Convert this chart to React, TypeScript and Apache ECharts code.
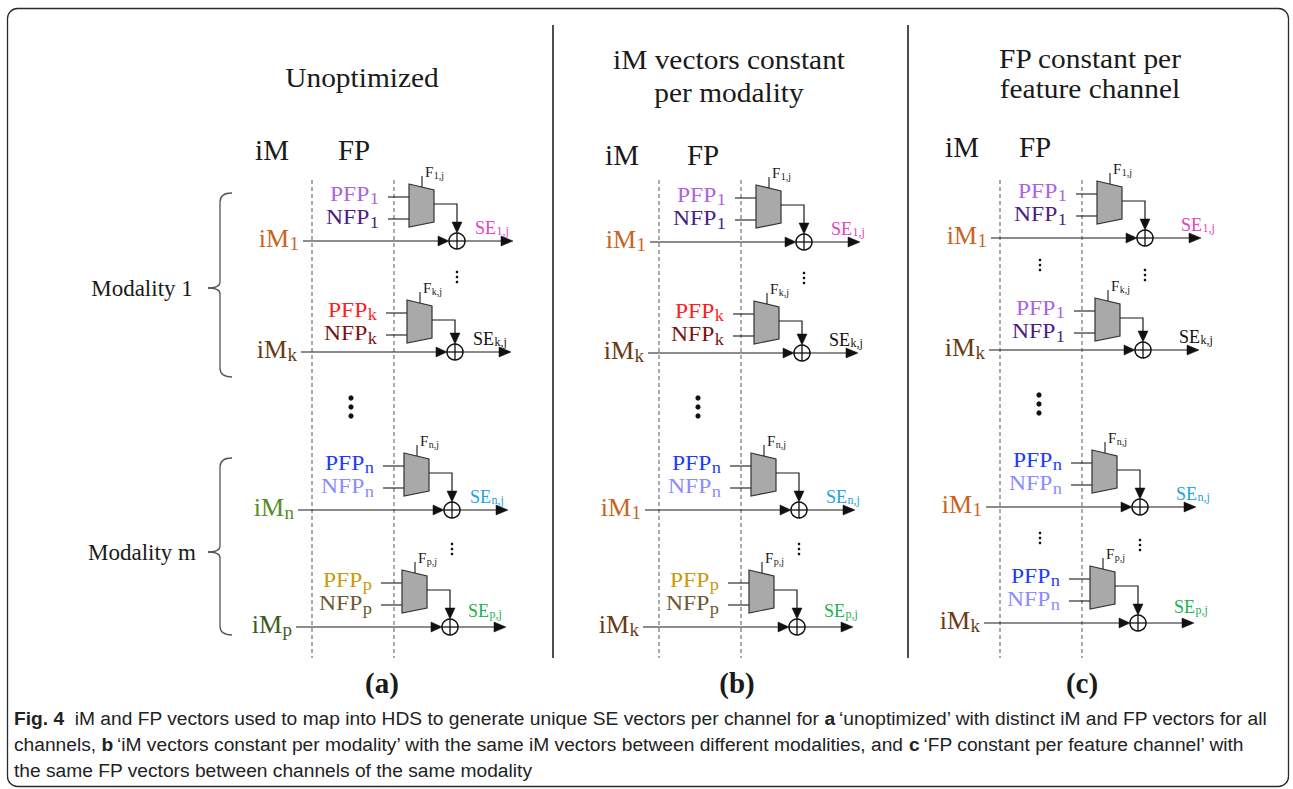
import React, { useEffect, useRef } from "react";
import * as echarts from "echarts";

// ---------------- content ----------------
const panelTitles: string[][] = [
  ["Unoptimized"],
  ["iM vectors constant", "per modality"],
  ["FP constant per", "feature channel"],
];
const panelLetters = ["(a)", "(b)", "(c)"];
const headerLabels = ["iM", "FP"];
const fpLabels = ["PFP", "NFP"];
const imSubs: string[][] = [
  ["1", "k", "n", "p"],
  ["1", "k", "1", "k"],
  ["1", "k", "1", "k"],
];
const fpSubs: string[][] = [
  ["1", "k", "n", "p"],
  ["1", "k", "n", "p"],
  ["1", "1", "n", "n"],
];
const seSubs = ["1,j", "k,j", "n,j", "p,j"];
const modalityLabels = ["Modality 1", "Modality m"];
const captionLines = [
  "{b|Fig. 4}  iM and FP vectors used to map into HDS to generate unique SE vectors per channel for {b|a}\u2009\u2018unoptimized\u2019 with distinct iM and FP vectors for all",
  "channels, {b|b}\u2009\u2018iM vectors constant per modality\u2019 with the same iM vectors between different modalities, and {b|c}\u2009\u2018FP constant per feature channel\u2019 with",
  "the same FP vectors between channels of the same modality",
];

// ---------------- styles ----------------
const IM_COLORS: Record<string, string> = { "1": "#c9631f", k: "#6a3a12", n: "#5a8a2b", p: "#3d5b1f" };
const PFP_COLORS: Record<string, string> = { "1": "#ad63dc", k: "#ff1d1d", n: "#1b3cff", p: "#c99a08" };
const NFP_COLORS: Record<string, string> = { "1": "#4a1d84", k: "#7b1313", n: "#8b8cff", p: "#6d5a33" };
const SE_COLORS: Record<string, string> = { "1,j": "#e043c3", "k,j": "#111111", "n,j": "#1aa3e0", "p,j": "#19b04f" };

const SERIF = "'Liberation Serif', 'DejaVu Serif', serif";
const SANS = "'Liberation Sans', 'DejaVu Sans', sans-serif";
const INK = "#1a1a1a";

// ---------------- layout ----------------
const PANELS = [
  { cx: 362, titleY: [78], dash1: 312, dash2: 394, headerY: 150, hdrIM: -40, hdrFP: 42, seDx: 18, letterX: 382 },
  { cx: 729, titleY: [60, 93], dash1: 659, dash2: 741, headerY: 155, hdrIM: -37, hdrFP: 44, seDx: 27, letterX: 737 },
  { cx: 1090, titleY: [59, 89], dash1: 1000, dash2: 1082, headerY: 147, hdrIM: -38, hdrFP: 35, seDx: 36, letterX: 1082 },
];
const ROW_Y = [
  [241, 352, 510, 627],
  [242, 353, 510, 627],
  [238, 350, 507, 623],
];
const ROW_DX = [0, -2, -5, -7];
const MUX_OFF = [-57, -52, -57, -57];
const SEPARATORS = [553, 908];
const BRACES = [
  { top: 193, bottom: 377, mid: 288 },
  { top: 458, bottom: 635, mid: 552 },
];
const FP_SX = 1.15; // the source figure's serif labels are slightly stretched horizontally
const TITLE_SX = 1.09;

// Times / Liberation Serif advance widths (em)
const EM: Record<string, number> = { F: 0.556, SE: 1.167, "1": 0.5, k: 0.5, n: 0.5, p: 0.5 };

function T(x: number, y: number, text: string, o: any = {}) {
  return {
    type: "text",
    x,
    y,
    scaleX: o.sx || 1,
    silent: true,
    style: {
      text,
      fill: o.fill || INK,
      fontSize: o.size || 16,
      fontFamily: o.family || SERIF,
      fontWeight: o.weight || "normal",
      textAlign: o.align || "left",
      align: o.align || "left",
      textVerticalAlign: "middle",
      verticalAlign: "middle",
      lineHeight: o.lineHeight,
      rich: o.rich,
    },
  };
}

// right-aligned main text + lowered subscript (two side-by-side texts)
function subRight(x: number, y: number, main: string, sub: string, color: string, fs: number, sfs: number, drop: number) {
  const sw = EM[sub] * sfs;
  return [
    T(x - sw - 0.5, y, main, { fill: color, size: fs, align: "right" }),
    T(x, y + drop, sub, { fill: color, size: sfs, align: "right" }),
  ];
}
// left-aligned main text + lowered subscript
function subLeft(x: number, y: number, main: string, sub: string, color: string, fs: number, sfs: number, drop: number) {
  const mw = EM[main] * fs;
  return [
    T(x, y, main, { fill: color, size: fs, align: "left" }),
    T(x + mw + 0.5, y + drop, sub, { fill: color, size: sfs, align: "left" }),
  ];
}

// PFP / NFP labels with subscripts, right-aligned at xr
function fpPair(xr: number, yP: number, yN: number, sub: string, c1: string, c2: string, fs: number, sfs: number, drop: number) {
  const sw = EM[sub] * sfs * FP_SX;
  return [
    T(xr - sw - 0.5, yP, fpLabels[0], { fill: c1, size: fs, align: "right", sx: FP_SX }),
    T(xr, yP + drop, sub, { fill: c1, size: sfs, align: "right", sx: FP_SX }),
    T(xr - sw - 0.5, yN, fpLabels[1], { fill: c2, size: fs, align: "right", sx: FP_SX }),
    T(xr, yN + drop, sub, { fill: c2, size: sfs, align: "right", sx: FP_SX }),
  ];
}

const line = (x1: number, y1: number, x2: number, y2: number, w = 1.2, stroke = INK, dash?: number[]) => ({
  type: "line",
  silent: true,
  shape: { x1, y1, x2, y2 },
  style: { stroke, lineWidth: w, lineDash: dash },
});

const tri = (pts: number[][]) => ({
  type: "polygon",
  silent: true,
  shape: { points: pts },
  style: { fill: "#111", stroke: "#111", lineWidth: 0.5 },
});

function buildGraphic() {
  const els: any[] = [];
  // outer frame
  els.push({
    type: "rect",
    silent: true,
    shape: { x: 7.5, y: 8.5, width: 1281, height: 778, r: 10 },
    style: { fill: "#ffffff", stroke: "#2a2a2a", lineWidth: 1.3 },
  });
  // separators
  SEPARATORS.forEach((sx) => els.push(line(sx, 25, sx, 658, 1.6, "#222")));

  // braces & modality labels
  BRACES.forEach((b, i) => {
    const bx = 220;
    const st = { stroke: "#555", lineWidth: 1.3, fill: "none" };
    els.push({ type: "bezierCurve", silent: true, shape: { x1: 232, y1: b.top, cpx1: bx, cpy1: b.top, x2: bx, y2: b.top + 9 }, style: st });
    els.push(line(bx, b.top + 9, bx, b.mid - 6, 1.3, "#555"));
    els.push({ type: "bezierCurve", silent: true, shape: { x1: bx, y1: b.mid - 6, cpx1: bx, cpy1: b.mid, x2: 208, y2: b.mid }, style: st });
    els.push({ type: "bezierCurve", silent: true, shape: { x1: 208, y1: b.mid, cpx1: bx, cpy1: b.mid, x2: bx, y2: b.mid + 6 }, style: st });
    els.push(line(bx, b.mid + 6, bx, b.bottom - 9, 1.3, "#555"));
    els.push({ type: "bezierCurve", silent: true, shape: { x1: bx, y1: b.bottom - 9, cpx1: bx, cpy1: b.bottom, x2: 232, y2: b.bottom }, style: st });
    els.push(T(142, b.mid, modalityLabels[i], { size: 23, align: "center" }));
  });

  PANELS.forEach((P, p) => {
    // titles
    panelTitles[p].forEach((t, i) => els.push(T(P.cx, P.titleY[i], t, { size: 27, align: "center", sx: TITLE_SX })));
    // headers
    els.push(T(P.dash1 + P.hdrIM, P.headerY, headerLabels[0], { size: 29, align: "center" }));
    els.push(T(P.dash1 + P.hdrFP, P.headerY, headerLabels[1], { size: 29, align: "center" }));
    // dashed guides
    els.push(line(P.dash1, 180, P.dash1, 658, 1, "#555", [4, 3]));
    els.push(line(P.dash2, 180, P.dash2, 658, 1, "#555", [4, 3]));
    // panel letter
    els.push(T(P.letterX, 683, panelLetters[p], { size: 29, weight: "bold", align: "center" }));

    // big dots between modalities
    const bdY = ROW_Y[p][2] - 103;
    [-9, 0, 9].forEach((d) =>
      els.push({ type: "circle", silent: true, shape: { cx: P.dash1 + 39, cy: bdY + d, r: 2.6 }, style: { fill: "#111" } })
    );

    ROW_Y[p].forEach((y, r) => {
      const dx = ROW_DX[r];
      const muxL = P.dash2 + 15 + dx;
      const muxT = y + MUX_OFF[r];
      const muxW = 25;
      const muxH = 43;
      const cx = muxL + 48;
      const R = 8;
      const lineStart = P.dash1 - 9 + dx;

      // iM line with arrow into adder
      els.push(line(lineStart, y, cx - R - 9, y, 1.2));
      els.push(tri([[cx - R, y], [cx - R - 11, y - 5], [cx - R - 11, y + 5]]));
      // adder
      els.push({ type: "circle", silent: true, shape: { cx, cy: y, r: R }, style: { fill: "#fff", stroke: "#111", lineWidth: 1.5 } });
      els.push(line(cx - R, y, cx + R, y, 1.3, "#111"));
      els.push(line(cx, y - R, cx, y + R, 1.3, "#111"));
      // output
      const tip = cx + 56;
      els.push(line(cx + R, y, tip - 10, y, 1.2));
      els.push(tri([[tip, y], [tip - 12, y - 5], [tip - 12, y + 5]]));
      // mux inputs
      els.push(line(P.dash2 - 6 + dx, muxT + 13, muxL, muxT + 13, 1.1));
      els.push(line(P.dash2 - 6 + dx, muxT + 35, muxL, muxT + 35, 1.1));
      // mux
      els.push({
        type: "polygon",
        silent: true,
        shape: { points: [[muxL, muxT], [muxL + muxW, muxT + 6], [muxL + muxW, muxT + muxH - 5], [muxL, muxT + muxH]] },
        style: { fill: "#a9a9a9", stroke: "#333", lineWidth: 1.2 },
      });
      // select line
      els.push(line(muxL + 13, muxT + 3, muxL + 13, muxT - 8, 1.1));
      // mux output to adder
      els.push({
        type: "polyline",
        silent: true,
        shape: { points: [[muxL + muxW, muxT + 20], [cx, muxT + 20], [cx, y - R - 9]] },
        style: { stroke: INK, lineWidth: 1.2, fill: "none" },
      });
      els.push(tri([[cx, y - R], [cx - 5, y - R - 11], [cx + 5, y - R - 11]]));

      // labels
      const fs = fpSubs[p][r];
      els.push(...fpPair(P.dash2 - 15 + dx, muxT + 10, muxT + 33.5, fs, PFP_COLORS[fs], NFP_COLORS[fs], 20.5, 16, 5));
      const is = imSubs[p][r];
      els.push(...subRight(lineStart - 4, y - 3, "iM", is, IM_COLORS[is], 26, 19, 5));
      const se = seSubs[r];
      els.push(...subLeft(cx + P.seDx, y - (r === 3 ? 16 : 13), "SE", se, SE_COLORS[se], 18, 12, 3));
      els.push(...subLeft(muxL + 16, muxT - 12, "F", se, INK, 15, 10, 3));

      // small dots between channels
      if (r === 1 || r === 3) {
        const sy = y - (r === 1 ? 75 : 78);
        [-5, 0, 5].forEach((d) =>
          els.push({ type: "circle", silent: true, shape: { cx: cx + 2, cy: sy + d, r: 1.3 }, style: { fill: "#111" } })
        );
        if (p === 2) {
          const fy = y - 85;
          [-5, 0, 5].forEach((d) =>
            els.push({ type: "circle", silent: true, shape: { cx: P.dash1 + 40, cy: fy + d, r: 1.3 }, style: { fill: "#111" } })
          );
        }
      }
    });
  });

  // caption
  const capYs = [718, 744, 770];
  captionLines.forEach((t, i) =>
    els.push(
      T(14, capYs[i], t, {
        size: 19.2,
        family: SANS,
        fill: "#222",
        align: "left",
        rich: { b: { fontWeight: "bold", fontSize: 19.2, fontFamily: SANS, fill: "#222" } },
      })
    )
  );
  return els;
}

export default function App() {
  const ref = useRef<HTMLDivElement>(null);
  useEffect(() => {
    if (!ref.current) return;
    const chart = echarts.init(ref.current, undefined, { renderer: "svg" });
    chart.setOption({
      animation: false,
      backgroundColor: "#ffffff",
      graphic: { elements: buildGraphic() },
    });
    return () => chart.dispose();
  }, []);
  return (
    <div
      ref={ref}
      style={{ position: "fixed", left: 0, top: 0, width: 1293, height: 789, background: "#fff" }}
    />
  );
}
